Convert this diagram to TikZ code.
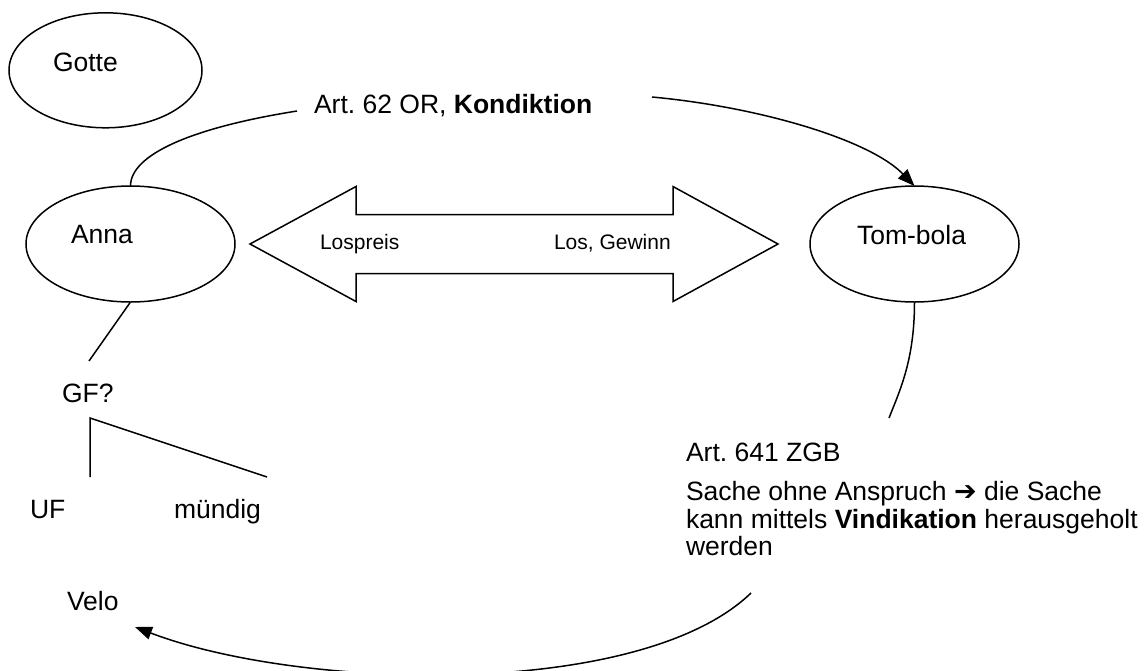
\documentclass[tikz,border=0pt]{standalone}
\usepackage{fontspec}
\setmainfont{Liberation Sans}
\newfontfamily\symfont{DejaVu Sans}
\usetikzlibrary{shapes.geometric,arrows.meta}
\frenchspacing

\begin{document}
\begin{tikzpicture}[x=1pt,y=-1pt,
  lbl/.style={anchor=base west, inner sep=0pt, outer sep=0pt, font=\fontsize{26.5}{27.5}\selectfont\frenchspacing},
  smalllbl/.style={lbl, font=\fontsize{21}{24}\selectfont},
  party/.style={ellipse, draw, line width=1.5pt, inner sep=0pt, outer sep=0pt,
                minimum width=209pt, minimum height=116pt},
  link/.style={line width=1.5pt},
  flow/.style={link, -{Triangle[length=17pt,width=13pt]}},
]
% canvas
\fill[white] (0,0) rectangle (1148,670);
\useasboundingbox (0,0) rectangle (1148,670);
\clip (0,0) rectangle (1148,670);

% parties
\node[party, minimum width=193pt, minimum height=115pt] (gotte) at (105.5,70.3) {};
\node[party] (anna) at (130.5,244) {};
\node[party] (tombola) at (914.5,244) {};

\node[lbl] (gotteT) at (53,71) {Gotte};
\node[lbl] (annaT) at (71,243) {Anna};
\node[lbl] (tomT) at (857,244) {Tom-bola};

% exchange arrow
\draw[link, line join=miter] (250,244) -- (356,186.5) -- (356,214.5) -- (673,214.5)
  -- (673,186.5) -- (778,244) -- (673,301.5) -- (673,273.5) -- (356,273.5)
  -- (356,301.5) -- cycle;
\node[smalllbl] (lospreis) at (320,249) {Lospreis};
\node[smalllbl] (gewinn) at (554,249) {Los, Gewinn};

% labels
\node[lbl] (kond) at (314,113) {Art. 62 OR, \textbf{Kondiktion}};
\node[lbl] (gf) at (62,402) {GF?};
\node[lbl] (uf) at (30,518) {UF};
\node[lbl] (muendig) at (174,518) {mündig};
\node[lbl] (velo) at (67,610) {Velo};
\node[lbl] (art641) at (686,461) {Art. 641 ZGB};
\node[lbl] (sache1) at (686,500) {Sache ohne Anspruch {\symfont\fontsize{27}{27}\selectfont ➔} die Sache};
\node[lbl] (sache2) at (686,528) {kann mittels \textbf{Vindikation} herausgeholt};
\node[lbl] (sache3) at (686,555) {werden};

% free ends of the connectors
\coordinate (kondL) at (297,111);
\coordinate (kondR) at (652,97);
\coordinate (gfTop) at (89,361);
\coordinate (brUF) at (90,477);
\coordinate (brCorner) at (90,418);
\coordinate (brM) at (267,477);
\coordinate (tomEnd) at (889,418);
\coordinate (vindStart) at (751,593);
\coordinate (veloTip) at (135,627);

% connectors
\draw[link] (anna.north) .. controls (130.5,155) and (190,128) .. (kondL);
\draw[flow] (kondR) .. controls (760,107) and (870,140) .. (tombola.north);
\draw[link] (anna.south) -- (gfTop);
\draw[link] (brUF) -- (brCorner) -- (brM);
\draw[link] (tombola.south) .. controls (914.5,360) and (900,390) .. (tomEnd);
\draw[flow] (vindStart) .. controls (640,700) and (300,690) .. (veloTip);
\end{tikzpicture}
\end{document}
